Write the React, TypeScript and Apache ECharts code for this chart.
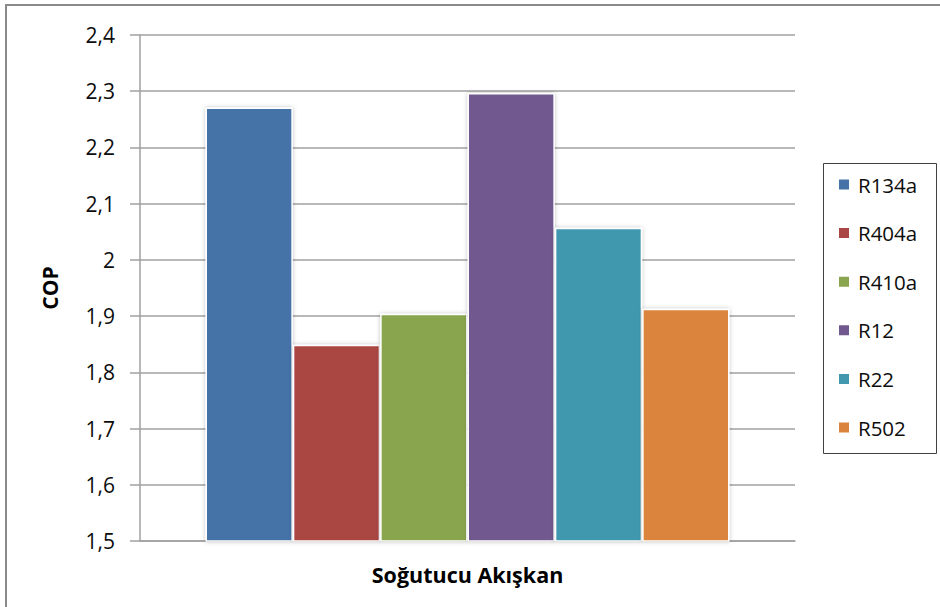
import React, { useEffect, useRef } from "react";
import * as echarts from "echarts";

const categories = [""];
const refrigerants = ["R134a", "R404a", "R410a", "R12", "R22", "R502"];
const copValues = [2.271, 1.849, 1.904, 2.297, 2.057, 1.913];
const colors = ["#4572A7", "#AA4643", "#89A54E", "#71588F", "#4198AF", "#DB843D"];
const yMin = 1.5;
const yMax = 2.4;
const yStep = 0.1;

const FONT = "'Open Sans', 'Liberation Sans', sans-serif";

export default function App() {
  const ref = useRef<HTMLDivElement>(null);
  useEffect(() => {
    if (!ref.current) return;
    const chart = echarts.init(ref.current, undefined, { renderer: "svg" });
    chart.setOption({
      animation: false,
      backgroundColor: "#ffffff",
      textStyle: { fontFamily: FONT },
      grid: { left: 140, right: 145, top: 35, bottom: 66 },
      graphic: [
        {
          type: "rect",
          shape: { x: 6, y: 5, width: 1000, height: 1000 },
          style: { fill: "none", stroke: "#8a8a8a", lineWidth: 2 },
          silent: true,
        },
        {
          type: "rect",
          shape: { x: 823.5, y: 163.5, width: 113, height: 290 },
          style: { fill: "none", stroke: "#404040", lineWidth: 1 },
          silent: true,
        },
      ],
      legend: {
        orient: "vertical",
        left: 837,
        top: 174,
        padding: 0,
        itemWidth: 12,
        itemHeight: 12,
        itemGap: 27.6,
        icon: "rect",
        data: refrigerants,
        textStyle: {
          fontFamily: FONT,
          fontSize: 20.5,
          color: "#0d0d0d",
          lineHeight: 20,
          padding: [0, 0, 0, 3],
        },
      },
      xAxis: {
        type: "category",
        data: categories,
        name: "Soğutucu Akışkan",
        nameLocation: "middle",
        nameGap: 22,
        nameTextStyle: { fontFamily: FONT, fontSize: 21.5, fontWeight: "bold", color: "#000" },
        axisLine: { lineStyle: { color: "#a0a0a0", width: 1.5 } },
        axisTick: { show: false },
        axisLabel: { show: false },
      },
      yAxis: {
        type: "value",
        min: yMin,
        max: yMax,
        interval: yStep,
        name: "COP",
        nameLocation: "middle",
        nameGap: 80,
        nameTextStyle: { fontFamily: FONT, fontSize: 21, fontWeight: "bold", color: "#000" },
        axisLine: { show: true, lineStyle: { color: "#a0a0a0", width: 1.5 } },
        axisTick: { show: true, length: 10, lineStyle: { color: "#a0a0a0", width: 1.5 } },
        axisLabel: {
          margin: 25,
          fontFamily: FONT,
          fontSize: 21,
          color: "#0d0d0d",
          formatter: (v: number) => String(+v.toFixed(1)).replace(".", ","),
        },
        splitLine: { show: true, lineStyle: { color: "#a0a0a0", width: 1.5 } },
      },
      series: refrigerants.map((name, i) => ({
        name,
        type: "bar",
        data: [copValues[i]],
        barGap: "0%",
        barCategoryGap: "20%",
        itemStyle: {
          color: colors[i],
          borderColor: "#ffffff",
          borderWidth: 1.5,
          shadowBlur: 4,
          shadowColor: "rgba(0,0,0,0.25)",
        },
      })),
    });
    return () => chart.dispose();
  }, []);
  return (
    <div
      ref={ref}
      style={{ position: "fixed", left: 0, top: 0, width: 940, height: 607 }}
    />
  );
}
